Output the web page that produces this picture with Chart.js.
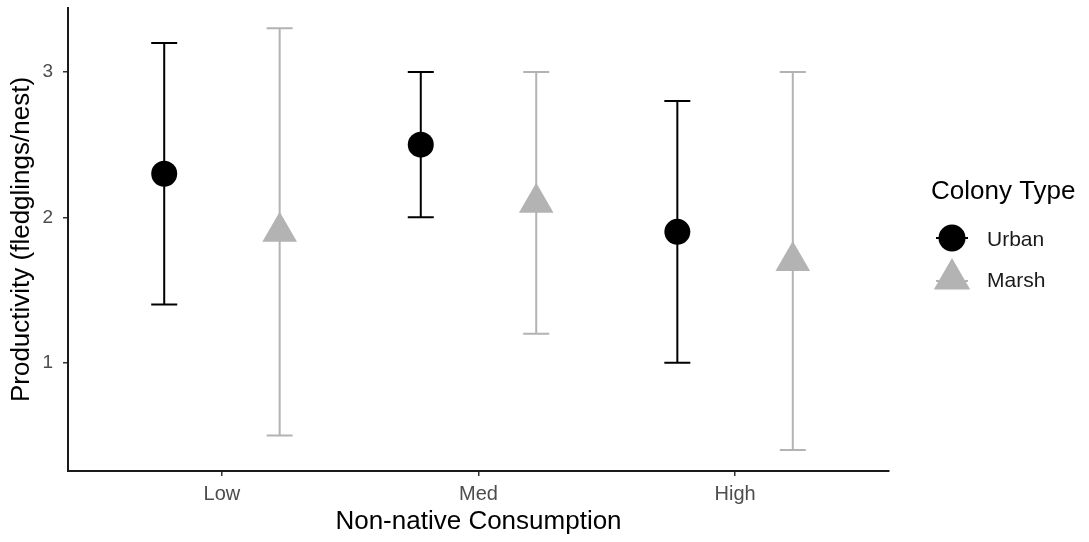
<!DOCTYPE html>
<html><head><meta charset="utf-8">
<script src="https://cdn.jsdelivr.net/npm/chart.js@4.4.1/dist/chart.umd.min.js"></script>
<style>html,body{margin:0;padding:0;background:#fff}canvas{display:block}</style>
</head><body>
<canvas id="c" width="1089" height="542"></canvas>
<script>
const categories = ['Low', 'Med', 'High'];
const seriesNames = ['Urban', 'Marsh'];
const urbanMean = [2.3, 2.5, 1.9];
const urbanLow = [1.4, 2.0, 1.0];
const urbanHigh = [3.2, 3.0, 2.8];
const marshMean = [1.9, 2.1, 1.7];
const marshLow = [0.5, 1.2, 0.4];
const marshHigh = [3.3, 3.0, 3.0];
const yTicks = [1, 2, 3];

const dodge = 0.225;
const urbanColor = '#000000';
const marshColor = '#b3b3b3';
const FONT = '"Liberation Sans", Arial, sans-serif';

function pts(means, off) { return means.map((v, i) => ({x: i + 1 + off, y: v})); }

const errorBars = {
  id: 'errorBars',
  beforeDatasetsDraw(chart) {
    const ctx = chart.ctx, xs = chart.scales.x, ys = chart.scales.y;
    const sets = [
      {lo: urbanLow, hi: urbanHigh, off: -dodge, color: urbanColor},
      {lo: marshLow, hi: marshHigh, off: dodge, color: marshColor}
    ];
    ctx.save();
    ctx.lineWidth = 2;
    sets.forEach(s => {
      ctx.strokeStyle = s.color;
      s.lo.forEach((lo, i) => {
        const x = xs.getPixelForValue(i + 1 + s.off);
        const y1 = ys.getPixelForValue(lo), y2 = ys.getPixelForValue(s.hi[i]);
        const hw = 13;
        ctx.beginPath();
        ctx.moveTo(x, y1); ctx.lineTo(x, y2);
        ctx.moveTo(x - hw, y1); ctx.lineTo(x + hw, y1);
        ctx.moveTo(x - hw, y2); ctx.lineTo(x + hw, y2);
        ctx.stroke();
      });
    });
    ctx.restore();
  }
};

const legendPlugin = {
  id: 'customLegend',
  afterDraw(chart) {
    const ctx = chart.ctx;
    ctx.save();
    ctx.fillStyle = '#000';
    ctx.font = '26px ' + FONT;
    ctx.textBaseline = 'middle';
    ctx.textAlign = 'left';
    ctx.fillText('Colony Type', 931, 192);
    const kx = 952;
    ctx.strokeStyle = urbanColor; ctx.lineWidth = 2;
    ctx.beginPath(); ctx.moveTo(kx - 16, 238); ctx.lineTo(kx + 16, 238); ctx.stroke();
    ctx.fillStyle = urbanColor;
    ctx.beginPath(); ctx.arc(kx, 238, 13.5, 0, Math.PI * 2); ctx.fill();
    ctx.strokeStyle = marshColor;
    ctx.beginPath(); ctx.moveTo(kx - 16, 281); ctx.lineTo(kx + 16, 281); ctx.stroke();
    ctx.fillStyle = marshColor;
    const r = 21, cy = 279;
    ctx.beginPath();
    ctx.moveTo(kx, cy - r);
    ctx.lineTo(kx + r * Math.sin(2 * Math.PI / 3), cy - r * Math.cos(2 * Math.PI / 3));
    ctx.lineTo(kx + r * Math.sin(4 * Math.PI / 3), cy - r * Math.cos(4 * Math.PI / 3));
    ctx.closePath(); ctx.fill();
    ctx.fillStyle = '#1a1a1a';
    ctx.font = '21px ' + FONT;
    ctx.fillText(seriesNames[0], 987, 240);
    ctx.fillText(seriesNames[1], 987, 281);
    ctx.restore();
  }
};

new Chart(document.getElementById('c'), {
  type: 'scatter',
  data: {
    datasets: [
      {label: seriesNames[0], data: pts(urbanMean, -dodge), pointStyle: 'circle', pointRadius: 13, pointHoverRadius: 13,
       backgroundColor: urbanColor, borderColor: urbanColor, borderWidth: 0},
      {label: seriesNames[1], data: pts(marshMean, dodge), pointStyle: 'triangle', pointRadius: 20, pointHoverRadius: 20,
       backgroundColor: marshColor, borderColor: marshColor, borderWidth: 0}
    ]
  },
  options: {
    responsive: false,
    animation: false,
    events: [],
    layout: {autoPadding: false, padding: {top: 8, right: 200, left: 0, bottom: 0}},
    plugins: {legend: {display: false}, tooltip: {enabled: false}},
    scales: {
      x: {
        type: 'linear', min: 0.4, max: 3.6,
        afterBuildTicks: s => { s.ticks = categories.map((c, i) => ({value: i + 1})); },
        afterFit: s => { s.height = 71; s.paddingLeft = 0; s.paddingRight = 0; },
        ticks: {callback: (v) => categories[Math.round(v) - 1] || '', color: '#4d4d4d', font: {family: FONT, size: 20}, padding: 6, autoSkip: false, maxRotation: 0},
        grid: {display: true, drawOnChartArea: false, drawTicks: true, tickLength: 5, color: '#333', lineWidth: 1.5},
        border: {display: true, color: '#1a1a1a', width: 2},
        title: {display: true, text: 'Non-native Consumption', color: '#000', font: {family: FONT, size: 26}, padding: {top: 0, bottom: 5}}
      },
      y: {
        type: 'linear', min: 0.255, max: 3.44,
        afterBuildTicks: s => { s.ticks = yTicks.map(v => ({value: v})); },
        afterFit: s => { s.width = 68; s.paddingTop = 0; s.paddingBottom = 0; },
        ticks: {color: '#4d4d4d', font: {family: FONT, size: 19}, padding: 10},
        grid: {display: true, drawOnChartArea: false, drawTicks: true, tickLength: 5, color: '#333', lineWidth: 1.5},
        border: {display: true, color: '#1a1a1a', width: 2},
        title: {display: true, text: 'Productivity (fledglings/nest)', color: '#000', font: {family: FONT, size: 26}, padding: {top: 6, bottom: 0}}
      }
    }
  },
  plugins: [errorBars, legendPlugin]
});
</script>
</body></html>
